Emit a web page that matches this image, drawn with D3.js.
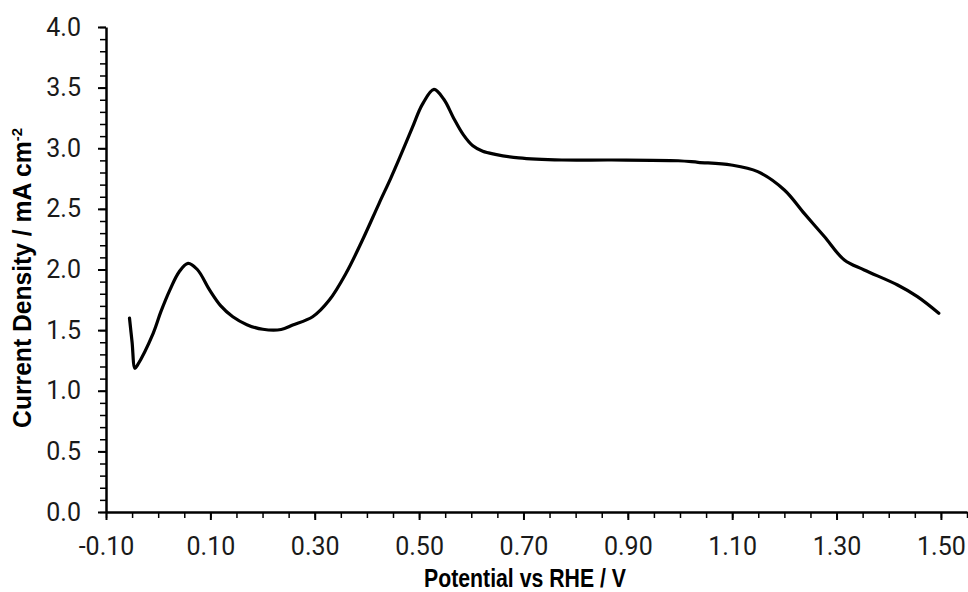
<!DOCTYPE html>
<html>
<head>
<meta charset="utf-8">
<script src="https://cdn.jsdelivr.net/npm/d3@7"></script>
<style type="text/css">
  body{
    background: white;
    margin: 0px;
  }
  .tickText{
    font-family: 'Roboto', 'Liberation Sans', sans-serif;
    font-size: 25px;
    fill: #1a1a1a;
  }
  .axisTitle{
    font-family: 'Liberation Sans', sans-serif;
    font-weight: bold;
    font-size: 25px;
    fill: black;
  }
</style>
</head>
<body>

<svg id="chart" width="968" height="592"></svg>

<script>

// potential (V vs RHE) and current density (mA cm-2)
var potential = [-0.055, -0.050, -0.0446, -0.040, -0.0096, 0.005, 0.0223, 0.040, 0.0572, 0.075,
  0.0987, 0.12, 0.143, 0.17, 0.2005, 0.2356, 0.2578, 0.296, 0.328, 0.36,
  0.3915, 0.4234, 0.4456, 0.4616, 0.487, 0.506, 0.5285, 0.548, 0.566, 0.585,
  0.603, 0.622, 0.646, 0.691, 0.7736, 0.869, 0.9965, 1.0347, 1.098, 1.149,
  1.2, 1.238, 1.277, 1.315, 1.353, 1.417, 1.455, 1.496];
var current = [1.60, 1.40, 1.185, 1.21, 1.474, 1.65, 1.83, 1.98, 2.05, 2.00,
  1.83, 1.70, 1.61, 1.545, 1.507, 1.505, 1.542, 1.61, 1.748, 1.969,
  2.243, 2.546, 2.752, 2.91, 3.17, 3.36, 3.486, 3.40, 3.25, 3.11,
  3.02, 2.975, 2.95, 2.92, 2.903, 2.903, 2.897, 2.884, 2.862, 2.807,
  2.656, 2.463, 2.27, 2.078, 1.996, 1.872, 1.776, 1.639];

var xTicks = [-0.10, 0.10, 0.30, 0.50, 0.70, 0.90, 1.10, 1.30, 1.50];
var yTicks = [0.0, 0.5, 1.0, 1.5, 2.0, 2.5, 3.0, 3.5, 4.0];

var xTitle = "Potential vs RHE / V";
var yTitle = "Current Density / mA cm";

var margin = {left: 106, top: 27, right: 1, bottom: 80};
var width = 968 - margin.left - margin.right;
var height = 592 - margin.top - margin.bottom;

var svg = d3.select("#chart");
var g = svg.append("g").attr("transform", "translate(" + margin.left + "," + margin.top + ")");

var x = d3.scaleLinear().domain([-0.10, 1.55]).range([0, width]);
var y = d3.scaleLinear().domain([0, 4.0]).range([height, 0]);

// hyphen minus like the original, not the unicode one
var fmt2 = function(d) { return d3.format(".2f")(d).replace("\u2212", "-"); };

// minor ticks first, majors on top
var xMinor = d3.range(-0.10, 1.551, 0.05);
var yMinor = d3.range(0, 4.001, 0.1);

g.append("g")
  .attr("transform", "translate(0," + height + ")")
  .call(d3.axisBottom(x).tickValues(xMinor).tickSize(6).tickFormat(""))
  .call(function(a) { a.select(".domain").remove(); a.selectAll("line").attr("stroke-width", 1.5); });

g.append("g")
  .call(d3.axisLeft(y).tickValues(yMinor).tickSize(6).tickFormat(""))
  .call(function(a) { a.select(".domain").remove(); a.selectAll("line").attr("stroke-width", 1.5); });

var xAxis = g.append("g")
  .attr("transform", "translate(0," + height + ")")
  .call(d3.axisBottom(x).tickValues(xTicks).tickSize(8).tickSizeOuter(0).tickPadding(17)
    .tickFormat(fmt2));
xAxis.select(".domain").attr("stroke-width", 2.5);
xAxis.selectAll("line").attr("stroke-width", 2);
xAxis.selectAll("text").attr("class", "tickText");

var yAxis = g.append("g")
  .call(d3.axisLeft(y).tickValues(yTicks).tickSize(8).tickSizeOuter(0).tickPadding(17)
    .tickFormat(d3.format(".1f")));
yAxis.select(".domain").attr("stroke-width", 2.5);
yAxis.selectAll("line").attr("stroke-width", 2);
yAxis.selectAll("text").attr("class", "tickText");

var pts = potential.map(function(d, i) { return [d, current[i]]; });

var line = d3.line()
  .x(function(d) { return x(d[0]); })
  .y(function(d) { return y(d[1]); })
  .curve(d3.curveCatmullRom.alpha(0.5));

g.append("path")
  .datum(pts)
  .attr("fill", "none")
  .attr("stroke", "black")
  .attr("stroke-width", 3.2)
  .attr("stroke-linejoin", "round")
  .attr("stroke-linecap", "round")
  .attr("d", line);

// titles: the original font is a condensed one, so squeeze to its width
var xt = svg.append("text")
  .attr("class", "axisTitle")
  .attr("text-anchor", "middle")
  .text(xTitle);
var xw = xt.node().getComputedTextLength();
xt.attr("transform", "translate(525,587) scale(" + (202 / xw) + ",1)");

var yt = svg.append("text")
  .attr("class", "axisTitle")
  .attr("text-anchor", "middle");
yt.append("tspan").text(yTitle);
yt.append("tspan").attr("dy", -9).attr("font-size", 15).text("-2");
var yw = yt.node().getComputedTextLength();
yt.attr("transform", "translate(31,278) rotate(-90) scale(" + (300 / yw) + ",1)");

</script>

</body>
</html>
